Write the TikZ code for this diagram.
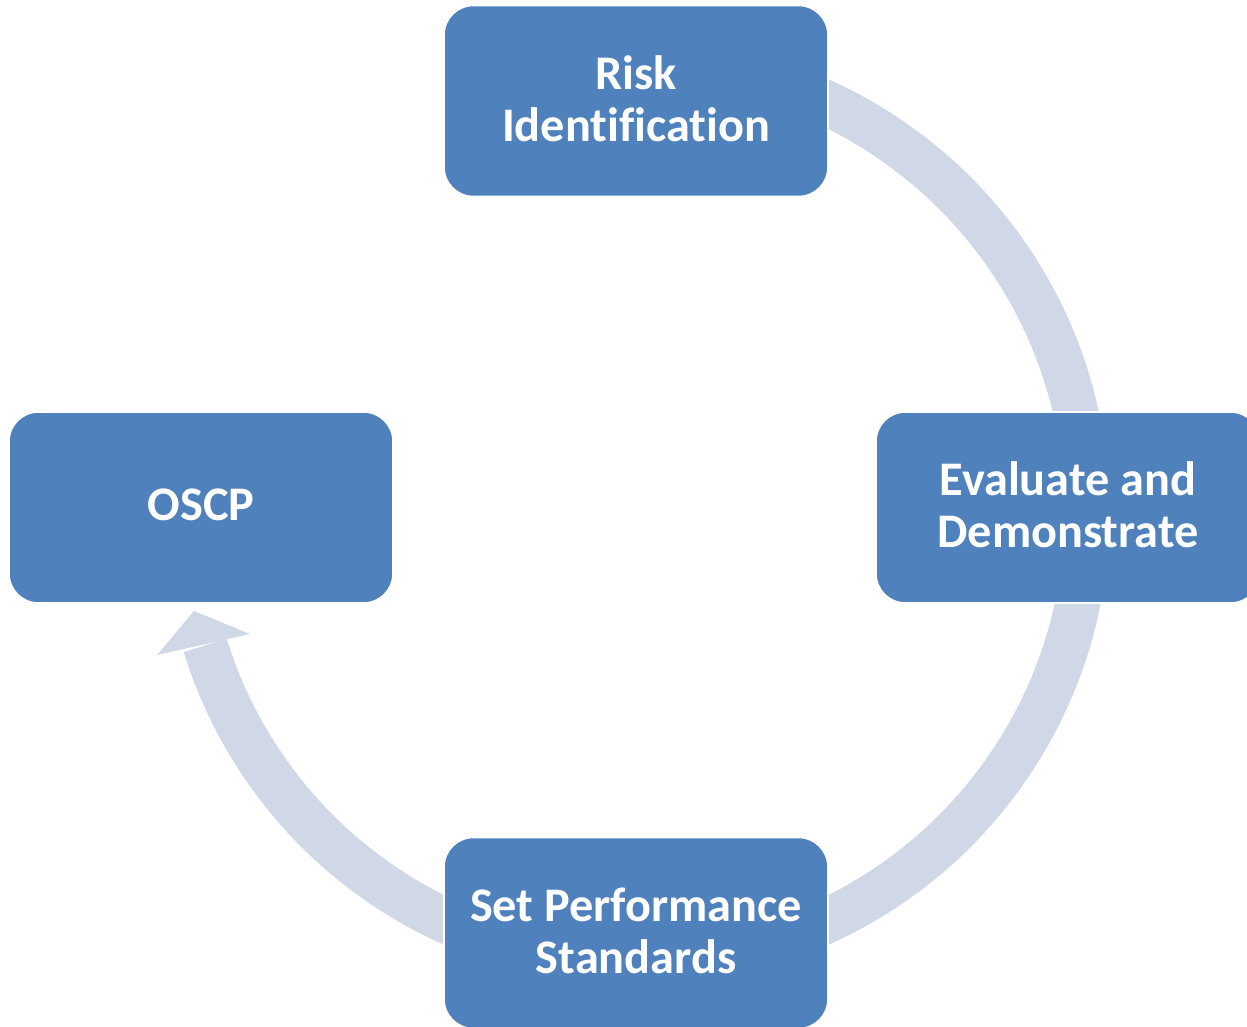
\documentclass[tikz,border=0pt]{standalone}
\usepackage{fontspec}
\setmainfont{Carlito}[Ligatures={NoCommon}]
\usetikzlibrary{calc}
\definecolor{boxblue}{HTML}{4F81BD}
\definecolor{bandgray}{HTML}{D0D8E8}
\begin{document}
\begin{tikzpicture}[x=0.75pt,y=0.75pt,
  stagebox/.style={fill=boxblue, draw=white, line width=1.2pt, rounded corners=22pt,
    minimum width=288pt, minimum height=143.25pt, inner sep=0pt},
  stagetext/.style={text=white, align=center, inner sep=0pt, yshift=1.8pt,
    font=\fontsize{36.2pt}{39pt}\selectfont\bfseries},
  band/.style={draw=bandgray, line width=33.75pt, line cap=butt}]
\useasboundingbox (0,0) rectangle (1247,1026);
\clip (0,0) rectangle (1247,1026);
\coordinate (c) at (636,514);
% cycle band
\draw[band] ($(c)+(95:451)$) arc[start angle=95, end angle=-162.8, radius=451];
\coordinate (tip) at (194,415);
\coordinate (wingL) at (157,371);
\coordinate (wingR) at (250,392);
\fill[bandgray] (wingL) -- (tip) -- (wingR) -- cycle;
% stages
\node[stagebox] (risk) at (636,925) {};
\node[stagebox] (eval) at (1068,518.5) {};
\node[stagebox] (oscp) at (201,518.5) {};
\node[stagebox] (set) at (636,93) {};
\node[stagetext] (risk-t) at (risk.center) {Risk\\Identification};
\node[stagetext] (eval-t) at (eval.center) {Evaluate and\\Demonstrate};
\node[stagetext] (oscp-t) at (oscp.center) {OSCP};
\node[stagetext] (set-t) at (set.center) {Set Performance\\Standards};
\end{tikzpicture}
\end{document}
